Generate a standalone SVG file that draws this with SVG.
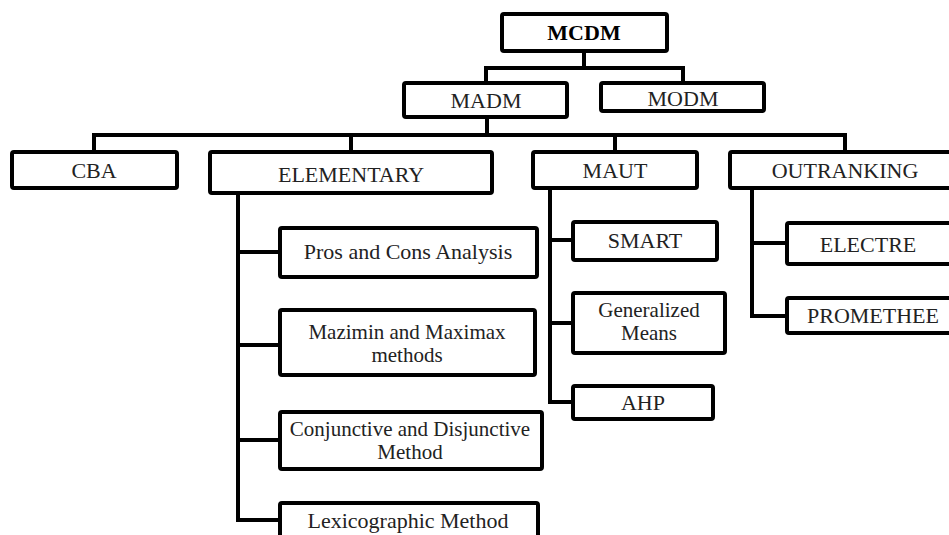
<svg xmlns="http://www.w3.org/2000/svg" width="949" height="535" viewBox="0 0 949 535">
<style>
.b{fill:#fff;stroke:#000;stroke-width:4;stroke-linejoin:round}
.c{fill:none;stroke:#000;stroke-width:4;stroke-linejoin:miter}
text{font-family:"Liberation Serif","Times New Roman",serif;font-size:22px;fill:#222;text-anchor:middle}
.s{font-size:21px}
.bold{font-weight:bold;fill:#000}
</style>
<rect width="949" height="535" fill="#fff"/>
<g id="connectors">
<path class="c" d="M584 51V68M486 83V68H683V83"/>
<path class="c" d="M487 117V135M94 152V135H845V152M351 135V152M615 135V152"/>
<path class="c" d="M238 193V520H280M238 252H280M238 345H280M238 440H280"/>
<path class="c" d="M550 188V402H573M550 240H573M550 323H573"/>
<path class="c" d="M752 188V316H787M752 243H787"/>
</g>
<g id="mcdm"><rect class="b" x="502" y="14" width="165" height="37" rx="2"/><text class="bold" x="584" y="40">MCDM</text></g>
<g id="madm"><rect class="b" x="404" y="83" width="163" height="34" rx="2"/><text x="486" y="108">MADM</text></g>
<g id="modm"><rect class="b" x="601" y="83" width="163" height="28" rx="2"/><text x="683" y="106">MODM</text></g>
<g id="cba"><rect class="b" x="12" y="152" width="165" height="36" rx="2"/><text x="94" y="178">CBA</text></g>
<g id="elementary"><rect class="b" x="210" y="152" width="282" height="41" rx="2"/><text x="351" y="182">ELEMENTARY</text></g>
<g id="maut"><rect class="b" x="533" y="152" width="164" height="36" rx="2"/><text x="615" y="178">MAUT</text></g>
<g id="outranking"><rect class="b" x="730" y="152" width="225" height="36" rx="2"/><text x="845" y="178">OUTRANKING</text></g>
<g id="pros"><rect class="b" x="280" y="228" width="257" height="49" rx="2"/><text x="408" y="259">Pros and Cons Analysis</text></g>
<g id="mazimin"><rect class="b" x="280" y="310" width="255" height="65" rx="2"/><text class="s" x="407" y="339">Mazimin and Maximax</text><text class="s" x="407" y="362">methods</text></g>
<g id="conjunctive"><rect class="b" x="280" y="412" width="262" height="57" rx="2"/><text class="s" x="410" y="436">Conjunctive and Disjunctive</text><text class="s" x="410" y="459">Method</text></g>
<g id="lexicographic"><rect class="b" x="280" y="503" width="258" height="40" rx="2"/><text x="408" y="528">Lexicographic Method</text></g>
<g id="smart"><rect class="b" x="573" y="222" width="144" height="38" rx="2"/><text x="645" y="248">SMART</text></g>
<g id="generalized"><rect class="b" x="573" y="293" width="152" height="60" rx="2"/><text class="s" x="649" y="317">Generalized</text><text class="s" x="649" y="340">Means</text></g>
<g id="ahp"><rect class="b" x="573" y="386" width="140" height="33" rx="2"/><text x="643" y="410">AHP</text></g>
<g id="electre"><rect class="b" x="787" y="223" width="170" height="41" rx="2"/><text x="868" y="252">ELECTRE</text></g>
<g id="promethee"><rect class="b" x="787" y="298" width="170" height="35" rx="2"/><text x="873" y="323">PROMETHEE</text></g>
</svg>
